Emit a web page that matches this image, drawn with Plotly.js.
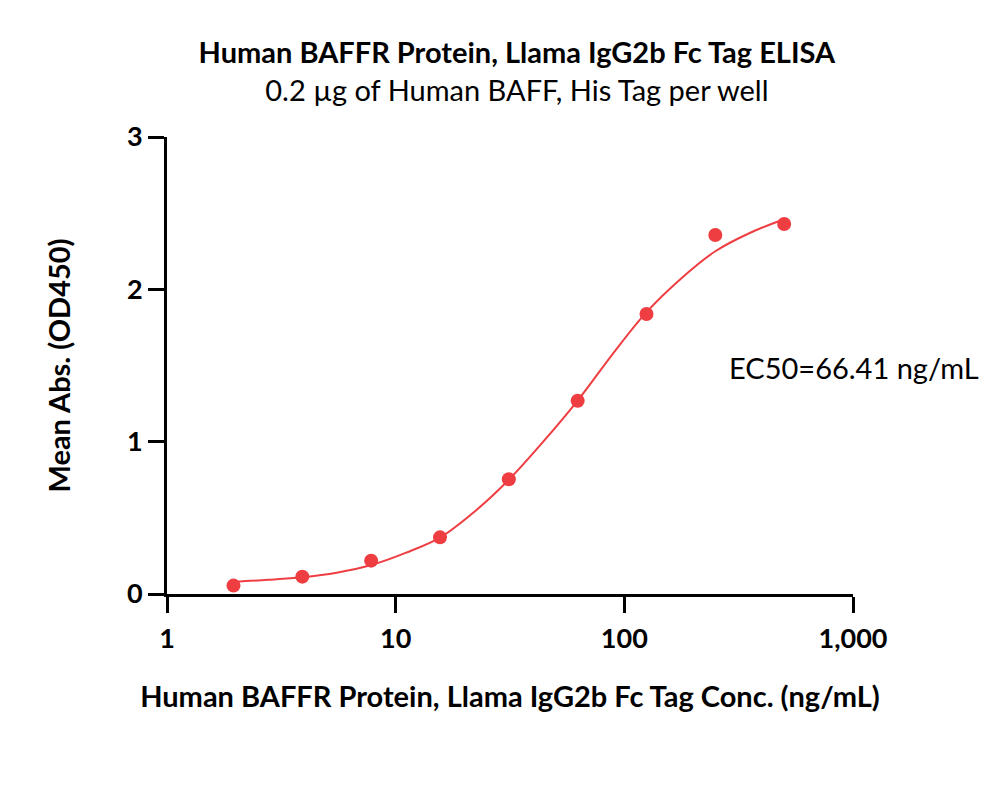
<!DOCTYPE html>
<html>
<head>
<meta charset="utf-8">
<script src="https://cdn.plot.ly/plotly-3.0.1.min.js"></script>
<style>html,body{margin:0;padding:0;background:#fff;}#chart{width:1000px;height:788px;}</style>
</head>
<body>
<div id="chart"></div>
<script>
// Measured points (ng/mL vs OD450)
const concentrations = [1.953, 3.906, 7.8125, 15.625, 31.25, 62.5, 125, 250, 500];
const meanAbs = [0.055, 0.114, 0.219, 0.372, 0.753, 1.269, 1.838, 2.357, 2.429];
// Fitted curve
const curveConc = [1.953, 2.762, 3.906, 5.524, 7.8125, 11.05, 15.625, 22.1, 31.25, 44.19, 62.5, 88.39, 125, 176.8, 250, 353.6, 500];
const curveAbs = [0.08, 0.093, 0.11, 0.14, 0.19, 0.27, 0.37, 0.54, 0.75, 1.0, 1.27, 1.57, 1.85, 2.07, 2.25, 2.37, 2.46];
const xTickVals = [1, 10, 100, 1000];
const xTickText = ['1', '10', '100', '1,000'];
const yTickVals = [0, 1, 2, 3];
const titleText = 'Human BAFFR Protein, Llama IgG2b Fc Tag ELISA';
const subtitleText = '0.2 µg of Human BAFF, His Tag per well';
const xTitle = 'Human BAFFR Protein, Llama IgG2b Fc Tag Conc. (ng/mL)';
const yTitle = 'Mean Abs. (OD450)';
const ec50Label = 'EC50=66.41 ng/mL';

const red = '#EF3E42';
const font = 'Lato, "Open Sans", sans-serif';

const traces = [
  {x: curveConc, y: curveAbs, mode: 'lines', line: {color: red, width: 2, shape: 'spline', smoothing: 1}, hoverinfo: 'skip', showlegend: false},
  {x: concentrations, y: meanAbs, mode: 'markers', marker: {color: red, size: 14}, showlegend: false}
];

const layout = {
  width: 1000, height: 788,
  margin: {l: 167, r: 147, t: 137, b: 194},
  paper_bgcolor: '#fff', plot_bgcolor: '#fff',
  font: {family: font, color: '#000'},
  title: {
    text: '<b>' + titleText + '</b><br>' + subtitleText,
    font: {family: font, size: 29, color: '#000'},
    x: 0.51, xref: 'paper', xanchor: 'center', y: 1 - 63 / 788, yanchor: 'middle'
  },
  xaxis: {
    type: 'log', range: [0, 3],
    tickvals: xTickVals, ticktext: xTickText,
    ticks: 'outside', ticklen: 16, tickwidth: 3, tickcolor: '#000',
    showline: true, linewidth: 3, linecolor: '#000',
    showgrid: false, zeroline: false,
    ticklabelstandoff: 3,
    tickfont: {family: font, size: 27, color: '#000', weight: 'bold'},
    title: {text: '<b>' + xTitle + '</b>', font: {family: font, size: 29, color: '#000'}, standoff: 34}
  },
  yaxis: {
    range: [0, 3],
    tickvals: yTickVals,
    ticks: 'outside', ticklen: 16, tickwidth: 3, tickcolor: '#000',
    showline: true, linewidth: 3, linecolor: '#000',
    showgrid: false, zeroline: false,
    tickfont: {family: font, size: 27, color: '#000', weight: 'bold'},
    title: {text: '<b>' + yTitle + '</b>', font: {family: font, size: 29, color: '#000'}, standoff: 48}
  },
  annotations: [
    {x: (727 - 167) / 686, xref: 'paper', y: 1.49, yref: 'y', xanchor: 'left', yanchor: 'middle', showarrow: false,
     text: ec50Label, font: {family: font, size: 29, color: '#000'}}
  ]
};

Plotly.newPlot('chart', traces, layout, {displayModeBar: false, staticPlot: true});
</script>
</body>
</html>
